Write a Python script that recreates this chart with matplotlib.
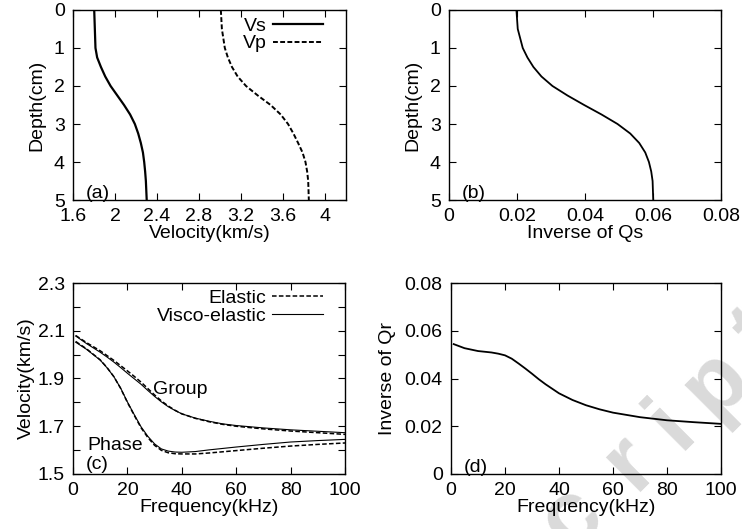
import matplotlib
matplotlib.use("Agg")
import matplotlib.pyplot as plt
from matplotlib.ticker import FixedLocator, FormatStrFormatter, FuncFormatter

plt.rcParams["font.family"] = ["Liberation Sans", "DejaVu Sans"]
plt.rcParams["font.size"] = 14

# --- (a) velocity profiles vs depth ---
depth = [0, 0.5, 1.0, 1.25, 1.5, 1.75, 2.0, 2.25, 2.5, 2.75, 3.0, 3.25, 3.5, 3.75, 4.0, 4.25, 4.5, 5.0]
vs = [1.802, 1.808, 1.814, 1.830, 1.866, 1.907, 1.958, 2.022, 2.086, 2.144, 2.189, 2.221,
      2.246, 2.266, 2.278, 2.287, 2.294, 2.302]
vp = [3.008, 3.018, 3.046, 3.075, 3.114, 3.168, 3.248, 3.360, 3.482, 3.578, 3.648, 3.699,
      3.744, 3.786, 3.814, 3.830, 3.840, 3.846]

# --- (b) inverse Qs vs depth ---
inv_qs = [0.01983, 0.02022, 0.02169, 0.02307, 0.02483, 0.02719, 0.03043, 0.03485, 0.03975,
          0.04486, 0.04957, 0.05330, 0.05595, 0.05772, 0.05880, 0.05948, 0.05988, 0.06007]

# --- (c) dispersion curves ---
freq = [1, 5, 10, 12.5, 15, 17.5, 20, 22.5, 25, 27.5, 30, 32.5, 35, 37.5, 40, 45, 50, 55, 60,
        70, 80, 90, 100]
group_elastic = [2.080, 2.050, 2.016, 1.996, 1.976, 1.954, 1.932, 1.909, 1.885, 1.858, 1.831,
                 1.806, 1.785, 1.767, 1.752, 1.733, 1.719, 1.708, 1.700, 1.689, 1.680, 1.673, 1.666]
group_visco = [2.078, 2.046, 2.010, 1.990, 1.969, 1.946, 1.922, 1.899, 1.876, 1.850, 1.825,
               1.802, 1.782, 1.766, 1.752, 1.734, 1.721, 1.710, 1.703, 1.693, 1.685, 1.679, 1.673]
phase_elastic = [2.055, 2.024, 1.978, 1.946, 1.908, 1.859, 1.800, 1.746, 1.694, 1.653, 1.620,
                 1.599, 1.589, 1.585, 1.584, 1.584, 1.588, 1.593, 1.598, 1.608, 1.617, 1.624, 1.630]
phase_visco = [2.052, 2.022, 1.977, 1.945, 1.908, 1.860, 1.802, 1.749, 1.698, 1.658, 1.626,
               1.605, 1.596, 1.592, 1.591, 1.594, 1.601, 1.607, 1.613, 1.624, 1.634, 1.640, 1.645]

# --- (d) inverse Qr vs frequency ---
inv_qr = [0.0544, 0.0527, 0.0515, 0.0512, 0.0509, 0.0504, 0.0497, 0.0483, 0.0463, 0.0442, 0.0420,
          0.0397, 0.0376, 0.0357, 0.0338, 0.0310, 0.0288, 0.0271, 0.0257, 0.0238, 0.0225, 0.0217,
          0.0210]

fig = plt.figure(figsize=(7.42, 5.29), dpi=100)
W, H = 742, 529


def add_axes(x0, x1, y0, y1):
    ax = fig.add_axes([x0 / W, 1 - y1 / H, (x1 - x0) / W, (y1 - y0) / H])
    ax.patch.set_alpha(0)
    for which in ("major", "minor"):
        ax.tick_params(which=which, direction="in", top=True, right=True, length=5,
                       width=0.8)
    ax.tick_params(labelsize=14, pad=6)
    for s in ax.spines.values():
        s.set_linewidth(1.0)
    return ax


gfmt = FuncFormatter(lambda v, p: "%g" % round(v, 4))
leg_kw = dict(loc="upper right", frameon=False, markerfirst=False, handlelength=2.6,
              borderaxespad=0, borderpad=0, labelspacing=-0.02, handletextpad=0.3,
              fontsize=14)

# (a)
ax = add_axes(73, 346, 10, 200)
ax.plot(vs, depth, "k-", lw=1.6, label="Vs")
ax.plot(vp, depth, "k--", lw=1.4, dashes=(2.5, 1.2), label="Vp")
ax.set_xlim(1.6, 4.2)
ax.set_ylim(5, 0)
ax.xaxis.set_major_locator(FixedLocator([1.6, 2.0, 2.4, 2.8, 3.2, 3.6, 4.0]))
ax.xaxis.set_major_formatter(gfmt)
ax.yaxis.set_major_locator(FixedLocator([0, 1, 2, 3, 4, 5]))
ax.set_xlabel("Velocity(km/s)", labelpad=0)
ax.set_ylabel("Depth(cm)", labelpad=6)
ax.legend(bbox_to_anchor=(0.916, 0.96), **leg_kw)
ax.text(1.838, 4.82, "(a)", va="center", ha="center")

# (b)
ax = add_axes(449, 721, 10, 200)
ax.plot(inv_qs, depth, "k-", lw=1.3)
ax.set_xlim(0, 0.08)
ax.set_ylim(5, 0)
ax.xaxis.set_major_locator(FixedLocator([0, 0.02, 0.04, 0.06, 0.08]))
ax.xaxis.set_major_formatter(gfmt)
ax.yaxis.set_major_locator(FixedLocator([0, 1, 2, 3, 4, 5]))
ax.set_xlabel("Inverse of Qs", labelpad=0)
ax.set_ylabel("Depth(cm)", labelpad=6)
ax.text(0.0074, 4.82, "(b)", va="center", ha="center")

# (c)
ax = add_axes(73, 345, 283, 474)
ax.plot(freq, group_elastic, "k--", lw=1.1, dashes=(3, 1.5), label="Elastic")
ax.plot(freq, group_visco, "k-", lw=0.8, label="Visco-elastic")
ax.plot(freq, phase_elastic, "k--", lw=1.1, dashes=(3, 1.5))
ax.plot(freq, phase_visco, "k-", lw=0.8)
ax.set_xlim(0, 100)
ax.set_ylim(1.5, 2.3)
ax.xaxis.set_major_locator(FixedLocator([0, 20, 40, 60, 80, 100]))
ax.yaxis.set_major_locator(FixedLocator([1.5, 1.7, 1.9, 2.1, 2.3]))
ax.yaxis.set_minor_locator(FixedLocator([1.6, 1.8, 2.0, 2.2]))
ax.yaxis.set_major_formatter(FormatStrFormatter("%.1f"))
ax.set_xlabel("Frequency(kHz)", labelpad=0)
ax.set_ylabel("Velocity(km/s)", labelpad=2)
ax.legend(bbox_to_anchor=(0.919, 0.965), **leg_kw)
ax.text(39.3, 1.852, "Group", ha="center", va="center")
ax.text(15.4, 1.621, "Phase", ha="center", va="center")
ax.text(9.0, 1.538, "(c)", ha="center", va="center")

# (d)
ax = add_axes(451, 721, 283, 474)
ax.plot(freq, inv_qr, "k-", lw=1.3)
ax.set_xlim(0, 100)
ax.set_ylim(0, 0.08)
ax.xaxis.set_major_locator(FixedLocator([0, 20, 40, 60, 80, 100]))
ax.yaxis.set_major_locator(FixedLocator([0, 0.02, 0.04, 0.06, 0.08]))
ax.yaxis.set_major_formatter(gfmt)
ax.set_xlabel("Frequency(kHz)", labelpad=0)
ax.set_ylabel("Inverse of Qr", labelpad=6)
ax.text(9.3, 0.0029, "(d)", ha="center", va="center")

# faint watermark letters behind the axes (partly outside the picture, as in the source)
for ch, (px, py) in zip("cript", [(572, 518), (630, 462), (672, 425), (716, 383), (760, 335)]):
    fig.text(px / W, 1 - py / H, ch, fontsize=66, fontweight="bold", color="#dadada",
             rotation=45, ha="center", va="center", zorder=-5)

fig.savefig("out.png", dpi=100)
